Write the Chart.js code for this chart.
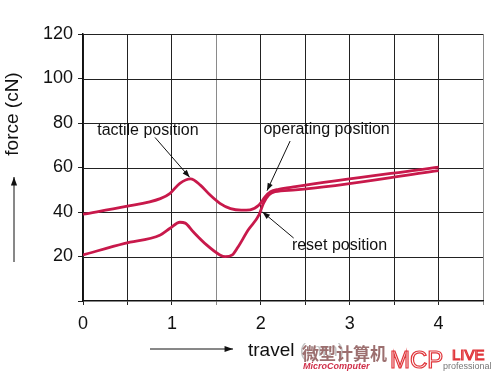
<!DOCTYPE html>
<html><head><meta charset="utf-8">
<script src="https://cdn.jsdelivr.net/npm/chart.js@4"></script>
<style>html,body{margin:0;padding:0;background:#fff}</style>
</head><body>
<canvas id="c" width="500" height="372"></canvas>
<script>
// ---- data ----
const pressTravel   = [0, 0.47, 0.87, 0.98, 1.09, 1.21, 1.32, 1.43, 1.54, 1.66, 1.78, 1.88, 1.98, 2.05, 2.11, 2.20, 2.39, 4.0];
const pressForce    = [39, 42.4, 46.0, 48.4, 52.9, 54.9, 52.1, 47.6, 43.9, 41.5, 40.8, 41.0, 43.1, 46.9, 49.1, 50.2, 51.4, 60.2];
const releaseTravel = [0, 0.47, 0.87, 0.98, 1.09, 1.15, 1.24, 1.39, 1.54, 1.60, 1.68, 1.74, 1.86, 1.98, 2.03, 2.09, 2.16, 2.39, 4.0];
const releaseForce  = [20.7, 25.9, 29.7, 32.7, 35.4, 35.0, 31.1, 25.2, 20.7, 19.9, 20.7, 24.0, 32.0, 38.7, 43.9, 47.6, 49.1, 49.9, 58.6];
const xTickValues = [0, 0.5, 1, 1.5, 2, 2.5, 3, 3.5, 4, 4.5];
const xTickLabels = ['0', '1', '2', '3', '4'];
const yTickLabels = ['20', '40', '60', '80', '100', '120'];
const annotationTexts = ['tactile position', 'operating position', 'reset position'];
const xTitle = 'travel (mm)';
const yTitle = 'force (cN)';

// annotation anchors in data units
const annotations = [
  {text: annotationTexts[0], tx: 0.16, ty: 76.4, from: [0.81, 73.5], to: [1.20, 55.6]},
  {text: annotationTexts[1], tx: 2.03, ty: 76.9, from: [2.33, 71.9], to: [2.07, 49.6]},
  {text: annotationTexts[2], tx: 2.35, ty: 24.7, from: [2.37, 28.3], to: [2.02, 40.0]}
];

const FONT = '"Liberation Sans", Arial, sans-serif';
const RED = '#c8194b';
const GRID = '#222';

function pts(xs, ys) { return xs.map((x, i) => ({x: x, y: ys[i]})); }

function arrow(ctx, x1, y1, x2, y2, head) {
  ctx.beginPath(); ctx.moveTo(x1, y1); ctx.lineTo(x2, y2); ctx.stroke();
  const a = Math.atan2(y2 - y1, x2 - x1);
  ctx.beginPath();
  ctx.moveTo(x2, y2);
  ctx.lineTo(x2 - head * Math.cos(a - 0.35), y2 - head * Math.sin(a - 0.35));
  ctx.lineTo(x2 - head * Math.cos(a + 0.35), y2 - head * Math.sin(a + 0.35));
  ctx.closePath(); ctx.fill();
}

const decor = {
  id: 'decor',
  beforeDatasetsDraw(chart) {
    // horizontal grid lines at the y scale's own tick positions
    const ctx = chart.ctx, ys = chart.scales.y, area = chart.chartArea;
    ctx.save();
    ctx.strokeStyle = GRID; ctx.lineWidth = 1;
    ys.ticks.forEach(t => {
      if (t.value === 0) return;
      const py = Math.round(ys.getPixelForValue(t.value)) + 0.5;
      ctx.beginPath(); ctx.moveTo(area.left, py); ctx.lineTo(area.right, py); ctx.stroke();
    });
    ctx.restore();
  },
  afterDraw(chart) {
    const ctx = chart.ctx, xs = chart.scales.x, ys = chart.scales.y;
    ctx.save();
    ctx.fillStyle = '#111'; ctx.strokeStyle = '#111'; ctx.lineWidth = 1;
    ctx.font = '16px ' + FONT; ctx.textBaseline = 'middle'; ctx.textAlign = 'left';
    annotations.forEach(a => {
      ctx.fillText(a.text, xs.getPixelForValue(a.tx), ys.getPixelForValue(a.ty));
      arrow(ctx, xs.getPixelForValue(a.from[0]), ys.getPixelForValue(a.from[1]),
                 xs.getPixelForValue(a.to[0]), ys.getPixelForValue(a.to[1]), 8);
    });
    ctx.font = '19px ' + FONT;
    ctx.save(); ctx.translate(13, 114); ctx.rotate(-Math.PI / 2);
    ctx.textAlign = 'center'; ctx.fillText(yTitle, 0, 0); ctx.restore();
    arrow(ctx, 14, 262, 14, 177, 9);
    ctx.textAlign = 'left'; ctx.textBaseline = 'alphabetic';
    ctx.fillText(xTitle, 248, 356);
    arrow(ctx, 150, 349, 233, 349, 9);
    ctx.fillStyle = 'rgba(255,255,255,0.75)';
    ctx.fillRect(300, 342, 200, 30);
    ctx.fillStyle = '#9c6f6f';
    ctx.font = 'bold 17px "Noto Sans CJK SC"';
    ctx.fillText('微型计算机', 302, 360);
    ctx.fillStyle = '#d0304a';
    ctx.font = 'italic bold 9px ' + FONT;
    ctx.fillText('MicroComputer', 303, 369);
    ctx.strokeStyle = '#e0353a'; ctx.lineWidth = 1.2;
    ctx.font = '24px ' + FONT;
    ctx.strokeText('MCP', 390, 368);
    ctx.font = '15px ' + FONT;
    ctx.strokeText('LIVE', 452, 360);
    ctx.fillStyle = '#777';
    ctx.font = '9px ' + FONT;
    ctx.fillText('professional', 443, 369);
    ctx.restore();
  }
};

new Chart(document.getElementById('c'), {
  type: 'scatter',
  data: {
    datasets: [
      {data: pts(pressTravel, pressForce), showLine: true, borderColor: RED, borderWidth: 2.8,
       pointRadius: 0, cubicInterpolationMode: 'monotone'},
      {data: pts(releaseTravel, releaseForce), showLine: true, borderColor: RED, borderWidth: 2.8,
       pointRadius: 0, cubicInterpolationMode: 'monotone'}
    ]
  },
  options: {
    responsive: false, animation: false, devicePixelRatio: 1,
    layout: {padding: {top: 34, right: 17, left: 0, bottom: 0}},
    plugins: {legend: {display: false}, tooltip: {enabled: false}},
    scales: {
      x: {
        type: 'linear', min: 0, max: 4.5,
        afterFit: s => { s.height = 71; },
        afterBuildTicks: s => { s.ticks = xTickValues.map(v => ({value: v})); },
        ticks: {
          autoSkip: false, maxRotation: 0, padding: 8, color: '#111',
          font: {family: FONT, size: 18},
          callback: v => (Number.isInteger(v) && v <= 4) ? xTickLabels[v] : ''
        },
        grid: {display: true, drawOnChartArea: true,
               color: c => (c.tick && (c.tick.value === 1.5 || c.tick.value === 4.5)) ? '#8a8a8a' : GRID,
               lineWidth: 1, tickLength: 4},
        border: {color: '#111', width: 1.5}
      },
      y: {
        type: 'linear', min: 0, max: 120,
        afterFit: s => { s.width = 83; },
        ticks: {
          stepSize: 20, padding: 5, color: '#111',
          font: {family: FONT, size: 18},
          callback: v => v === 0 ? '' : yTickLabels[v / 20 - 1]
        },
        grid: {display: true, drawOnChartArea: false, color: GRID, lineWidth: 1, tickLength: 5},
        border: {color: '#111', width: 1.5}
      }
    }
  },
  plugins: [decor]
});
</script>
</body></html>
